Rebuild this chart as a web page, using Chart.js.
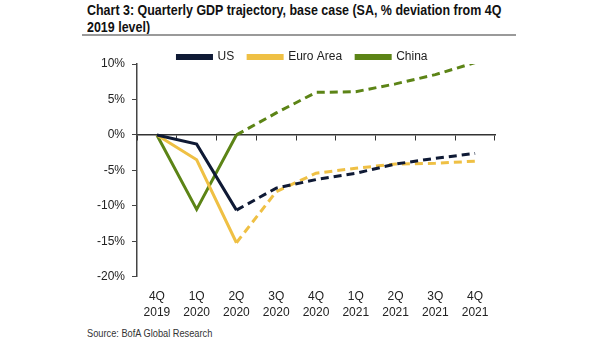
<!DOCTYPE html>
<html>
<head>
<meta charset="utf-8">
<script src="https://cdn.jsdelivr.net/npm/chart.js@4.4.1/dist/chart.umd.min.js"></script>
<style>
    html, body { margin: 0; padding: 0; background: #fff; }
    body { width: 605px; height: 341px; position: relative; overflow: hidden; font-family: "Liberation Sans", Arial, sans-serif; }
    .title { position: absolute; left: 87px; top: 2px; font-weight: bold; font-size: 14px; line-height: 17px; color: #111; white-space: nowrap; transform-origin: 0 0; transform: scaleX(0.89); }
    .rule { position: absolute; left: 82px; top: 34px; width: 434px; height: 2px; background: #9a9a9a; }
    .source { position: absolute; left: 87px; top: 327px; font-size: 10.5px; color: #333; white-space: nowrap; transform-origin: 0 0; transform: scaleX(0.88); }
    .wrap { position: absolute; left: 0; top: 37px; width: 605px; height: 287px; }
</style>
</head>
<body>
<div class="title">Chart 3: Quarterly GDP trajectory, base case (SA, % deviation from 4Q<br>2019 level)</div>
<div class="rule"></div>
<div class="wrap"><canvas id="chart"></canvas></div>
<div class="source">Source: BofA Global Research</div>

<script>
const QUARTERS = [
    ["4Q", "2019"], ["1Q", "2020"], ["2Q", "2020"], ["3Q", "2020"], ["4Q", "2020"],
    ["1Q", "2021"], ["2Q", "2021"], ["3Q", "2021"], ["4Q", "2021"]
];
const US = [0, -1.3, -10.6, -7.5, -6.3, -5.4, -4.1, -3.3, -2.6];
const EURO_AREA = [0, -3.5, -15.2, -8.0, -5.4, -4.7, -4.1, -4.0, -3.7];
const CHINA = [0, -10.5, 0, 3.1, 6.0, 6.1, 7.2, 8.5, 10.2];

// first three quarters are actuals, the rest is forecast (dashed)
const LAST_ACTUAL = 2;
const TEXT = "#222";
const FONT = { family: "'Liberation Sans', Arial, sans-serif", size: 12 };

function series(label, data, color) {
    return {
        label,
        data,
        borderColor: color,
        backgroundColor: color,
        borderWidth: 3,
        pointRadius: 0,
        tension: 0,
        segment: {
            borderDash: ctx => ctx.p0DataIndex >= LAST_ACTUAL ? [8, 5] : undefined
        }
    };
}

new Chart(document.getElementById("chart"), {
    type: "line",
    data: {
        labels: QUARTERS,
        datasets: [
            series("US", US, "#0f1a35"),
            series("Euro Area", EURO_AREA, "#efc044"),
            series("China", CHINA, "#5c8416")
        ]
    },
    options: {
        responsive: true,
        maintainAspectRatio: false,
        animation: false,
        layout: { padding: 0 },
        plugins: {
            tooltip: { enabled: false },
            legend: {
                position: "top",
                maxHeight: 27,
                labels: { boxWidth: 34, boxHeight: 3, padding: 14, color: TEXT, font: FONT }
            }
        },
        scales: {
            x: {
                offset: true,
                border: { display: false },
                grid: { display: false },
                ticks: { color: TEXT, font: { ...FONT, lineHeight: 1.3 }, maxRotation: 0, autoSkip: false, padding: 4 }
            },
            xZero: {
                type: "category",
                axis: "x",
                labels: QUARTERS,
                position: { y: 0 },
                offset: true,
                border: { display: true, color: "#333", width: 1.5 },
                grid: { drawOnChartArea: false, drawTicks: true, tickLength: 5, offset: true, color: "#333", lineWidth: 1 },
                ticks: { display: false }
            },
            y: {
                min: -20,
                max: 10,
                afterFit: scale => { scale.width = 137; },
                border: { display: true, color: "#444", width: 1.5 },
                grid: { drawOnChartArea: false, drawTicks: true, tickLength: 5, color: "#444" },
                ticks: { stepSize: 5, color: TEXT, font: FONT, padding: 7, callback: v => v + "%" }
            },
            // empty right-hand gutter so the legend stays centred on the page
            gutter: {
                type: "linear",
                axis: "y",
                position: "right",
                afterFit: scale => { scale.width = 110; },
                border: { display: false },
                grid: { display: false },
                ticks: { display: false }
            }
        }
    }
});
</script>
</body>
</html>
